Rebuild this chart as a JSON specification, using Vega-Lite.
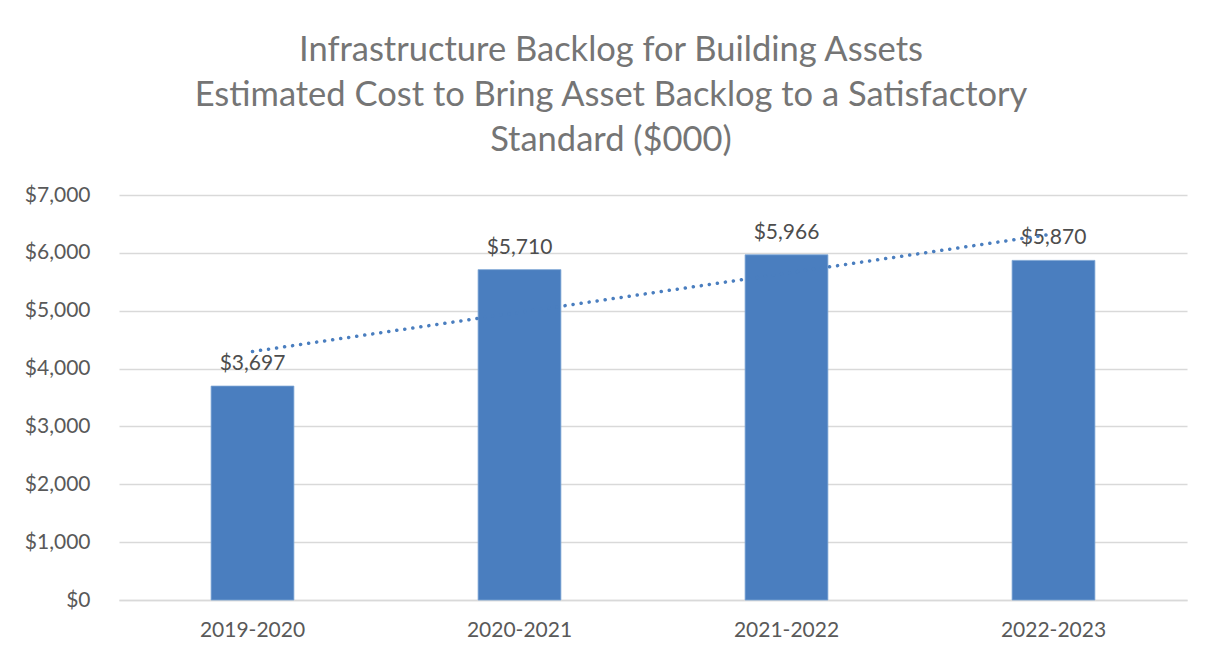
{
  "$schema": "https://vega.github.io/schema/vega-lite/v6.json",
  "width": 1068,
  "height": 405,
  "autosize": "none",
  "padding": {"left": 119, "top": 195, "right": 25, "bottom": 53},
  "background": "white",
  "config": {
    "view": {"stroke": null},
    "font": "Lato"
  },
  "title": {
    "text": ["Infrastructure Backlog for Building Assets", "Estimated Cost to Bring Asset Backlog to a Satisfactory", "Standard ($000)"],
    "font": "Lato",
    "fontSize": 34.5,
    "fontWeight": "normal",
    "color": "#757575",
    "lineHeight": 45,
    "anchor": "middle",
    "dx": -42,
    "offset": 26
  },
  "data": {
    "values": [
      {"year": "2019-2020", "cost": 3697, "trend": 4294.5},
      {"year": "2020-2021", "cost": 5710, "trend": 4972},
      {"year": "2021-2022", "cost": 5966, "trend": 5649.5},
      {"year": "2022-2023", "cost": 5870, "trend": 6327}
    ]
  },
  "encoding": {
    "x": {
      "field": "year",
      "type": "nominal",
      "sort": null,
      "title": null,
      "scale": {"paddingInner": 0.69, "paddingOuter": 0.345},
      "axis": {
        "labelAngle": 0,
        "labelFont": "Lato",
        "labelFontSize": 21,
        "labelColor": "#595959",
        "labelPadding": 19,
        "ticks": false,
        "domainColor": "#d9d9d9",
        "domainWidth": 1.5
      }
    }
  },
  "layer": [
    {
      "mark": {"type": "bar", "color": "#4a7ebf", "stroke": "#7aa3d3", "strokeWidth": 0.8},
      "encoding": {
        "y": {
          "field": "cost",
          "type": "quantitative",
          "title": null,
          "scale": {"domain": [0, 7000]},
          "axis": {
            "values": [0, 1000, 2000, 3000, 4000, 5000, 6000, 7000],
            "format": "$,.0f",
            "labelFont": "Lato",
            "labelFontSize": 21,
            "labelColor": "#595959",
            "labelPadding": 29,
            "ticks": false,
            "domain": false,
            "gridColor": "#d9d9d9",
            "gridWidth": 1.5
          }
        }
      }
    },
    {
      "mark": {"type": "text", "baseline": "bottom", "dy": -12, "fontSize": 21, "color": "#4d4d4d", "font": "Lato"},
      "encoding": {
        "y": {"field": "cost", "type": "quantitative"},
        "text": {"field": "cost", "type": "quantitative", "format": "$,.0f"}
      }
    },
    {
      "mark": {"type": "line", "color": "#4a7ebf", "strokeWidth": 3.5, "strokeDash": [0.1, 8], "strokeCap": "round"},
      "encoding": {
        "y": {"field": "trend", "type": "quantitative"}
      }
    }
  ]
}
